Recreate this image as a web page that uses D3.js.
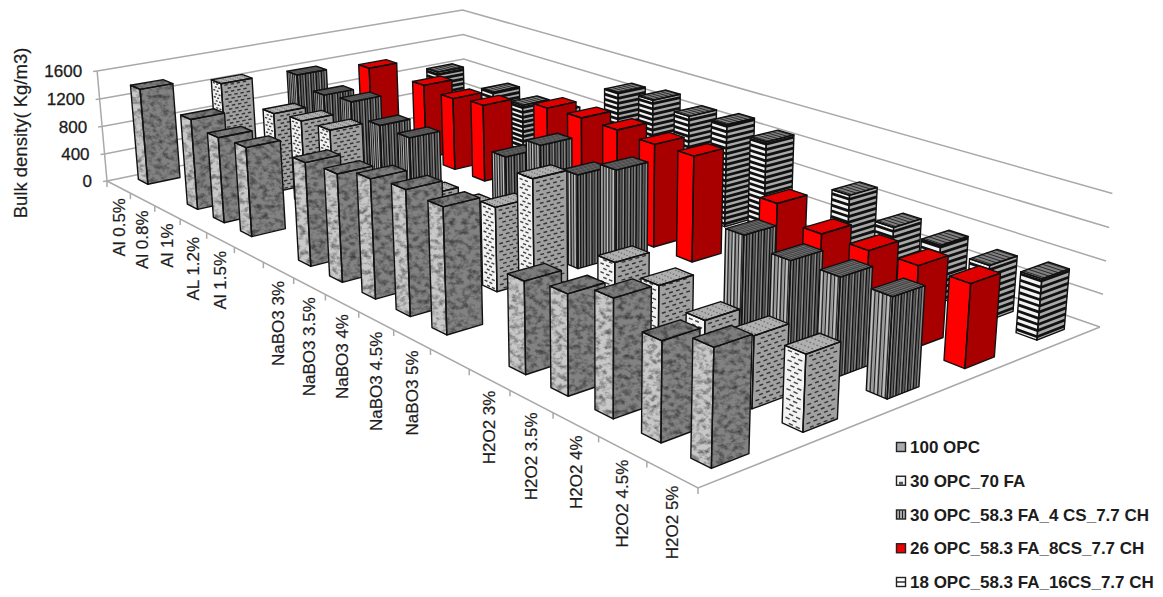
<!DOCTYPE html>
<html>
<head>
<meta charset="utf-8">
<script src="https://cdn.jsdelivr.net/npm/d3@7/dist/d3.min.js"></script>
<style>
html,body{margin:0;padding:0;background:#fff;}
svg{display:block;}
text{font-family:"Liberation Sans",Arial,sans-serif;fill:#1c1c1c;}
</style>
</head>
<body>
<svg id="chart" width="1163" height="597"></svg>
<script>
// Bulk density of the mixes for each foaming agent dosage (kg/m3).
const categories = ["Al 0.5%","Al 0.8%","Al 1%","AL 1.2%","Al 1.5%","",
  "NaBO3 3%","NaBO3 3.5%","NaBO3 4%","NaBO3 4.5%","NaBO3 5%","",
  "H2O2 3%","H2O2 3.5%","H2O2 4%","H2O2 4.5%","H2O2 5%"];
const seriesNames = ["100 OPC","30 OPC_70 FA","30 OPC_58.3 FA_4 CS_7.7 CH","26 OPC_58.3 FA_8CS_7.7 CH","18 OPC_58.3 FA_16CS_7.7 CH"];
const opc100     = [1378,null,1258,1169,1200,null,1342,1372,1488,1536,1517,null,1067,1139,1308,1084,1249];
const fa70       = [1252,null,1120,1170,1203,null,null, 847, 870,1062,1590,null, 984, 927, 750, 808, 842];
const cs4        = [1178,1021,1071, 884, 868,null,null,1102,1421,1212,1447,null,null,1216,1122,1142,1137];
const cs8        = [1082,null,1106,1057,1110,null,1376,1395,1392,1364,1380,null,1137, 953, 951, 977, 979];
const cs16       = [ 820,null, 792, 742, 780,null,1374,1421,1352,1395,1328,null, 978, 757, 728, 685, 733];
const seriesValues = [opc100, fa70, cs4, cs8, cs16];
const densityTicks = [0,400,800,1200,1600];
const yTitle = "Bulk density( Kg/m3)";

const svg = d3.select("#chart");

// Floor corners and wall top corner of the 3-D box, on screen.
const floorA=[107,181], floorB=[698,488], floorC=[1100,327], floorD=[465,107];
const topA=[97,71];
const vanish=[603,5700];

// Perspective camera: floor homography plus a vertical column through the vanishing point.
const sx=floorA[0]-floorB[0]+floorC[0]-floorD[0], sy=floorA[1]-floorB[1]+floorC[1]-floorD[1];
const dx1=floorB[0]-floorC[0], dx2=floorD[0]-floorC[0], dy1=floorB[1]-floorC[1], dy2=floorD[1]-floorC[1];
const den=dx1*dy2-dx2*dy1;
const g=(sx*dy2-dx2*sy)/den, h=(dx1*sy-sx*dy1)/den;
const a=floorB[0]-floorA[0]+g*floorB[0], b=floorD[0]-floorA[0]+h*floorD[0], c=floorA[0];
const d=floorB[1]-floorA[1]+g*floorB[1], e=floorD[1]-floorA[1]+h*floorD[1], f=floorA[1];
const k=(topA[1]-floorA[1])/(vanish[1]-topA[1]);
function project(u,v,w){
  const W=g*u+h*v+1+k*w;
  return [(a*u+b*v+c+k*w*vanish[0])/W,(d*u+e*v+f+k*w*vanish[1])/W];
}

const uScale=d3.scaleBand().domain(d3.range(categories.length)).range([0,1]).paddingInner(0.6).paddingOuter(0.3);
const vScale=d3.scaleBand().domain(d3.range(seriesNames.length)).range([0,1]).paddingInner(0.6).paddingOuter(0.3);
const wScale=d3.scaleLinear().domain([0,1600]).range([0,1]);
const line=d3.line();

// Granite fill used by the plain cement bars.
const defs=svg.append("defs");
const granite=defs.append("filter").attr("id","granite").attr("color-interpolation-filters","sRGB")
  .attr("x","0").attr("y","0").attr("width","1").attr("height","1");
granite.append("feTurbulence").attr("type","fractalNoise").attr("baseFrequency","0.16 0.2").attr("numOctaves",3).attr("seed",7).attr("result","n");
granite.append("feColorMatrix").attr("in","n").attr("type","matrix")
  .attr("values","1.15 0 0 0 0.32  1.15 0 0 0 0.32  1.15 0 0 0 0.32  0 0 0 0 1").attr("result","gray");
granite.append("feBlend").attr("in","SourceGraphic").attr("in2","gray").attr("mode","multiply").attr("result","m");
granite.append("feComposite").attr("in","m").attr("in2","SourceAlpha").attr("operator","in");

// Walls and floor
const grid=svg.append("g").attr("fill","none").attr("stroke","#a9a9a9").attr("stroke-width",1.5);
densityTicks.forEach(t=>{
  const w=wScale(t);
  grid.append("path").attr("d",line([project(0,0,w),project(0,1,w),project(1,1,w)]));
  const p=project(0,0,w);
  grid.append("path").attr("d",line([p,[p[0]-4,p[1]+0.5]]));
});
grid.append("path").attr("d",line([project(0,0,0),project(0,0,1)]));
grid.append("path").attr("d",line([project(0,0,0),project(1,0,0),project(1,1,0)]));
d3.range(categories.length+1).forEach(i=>{
  const p=project(i/categories.length,0,0);
  grid.append("path").attr("d",line([p,[p[0],p[1]+6]]));
});

// Face painters, one per series
function facePoint(q,s,t){
  const w0=[q[0][0]+(q[1][0]-q[0][0])*s,q[0][1]+(q[1][1]-q[0][1])*s,q[0][2]+(q[1][2]-q[0][2])*s];
  const w1=[q[3][0]+(q[2][0]-q[3][0])*s,q[3][1]+(q[2][1]-q[3][1])*s,q[3][2]+(q[2][2]-q[3][2])*s];
  return project(w0[0]+(w1[0]-w0[0])*t,w0[1]+(w1[1]-w0[1])*t,w0[2]+(w1[2]-w0[2])*t);
}
const polyPath=q=>line(q.map(p=>project(...p)))+"Z";
const stripeWidths=[0.9,0.5,1.3,0.6,1.0,0.5,1.5,0.7];

function verticalStripes(gr,q,count,colors){
  d3.range(1,count).forEach(n=>{
    gr.append("path").attr("d",line([facePoint(q,n/count,0),facePoint(q,n/count,1)]))
      .attr("stroke",colors[n%colors.length]).attr("stroke-width",stripeWidths[n%stripeWidths.length]).attr("fill","none");
  });
}
function horizontalStripes(gr,q,value,step,width,color){
  d3.range(step*0.55,value,step).forEach(val=>{
    const t=val/value;
    gr.append("path").attr("d",line([facePoint(q,0,t),facePoint(q,1,t)]))
      .attr("stroke",color).attr("stroke-width",width).attr("fill","none");
  });
}
function dashes(gr,q,value,step,cols,color,lenFrac,width){
  d3.range(step*0.5,value,step).forEach((val,row)=>{
    const t=val/value, off=(row%2)*0.5/cols;
    d3.range(cols).forEach(n=>{
      const s=(n+0.25)/cols+off-lenFrac/2;
      if(s<0.03||s+lenFrac>0.97) return;
      gr.append("path").attr("d",line([facePoint(q,s,t),facePoint(q,s+lenFrac,t)]))
        .attr("stroke",color).attr("stroke-width",width).attr("fill","none");
    });
  });
}
const painters=[
  (gr,L,R,T,val)=>{
    gr.append("path").attr("d",polyPath(L)).attr("fill","#c8c8c8").attr("filter","url(#granite)");
    gr.append("path").attr("d",polyPath(R)).attr("fill","#828282").attr("filter","url(#granite)");
    gr.append("path").attr("d",polyPath(T)).attr("fill","#7c7c7c").attr("filter","url(#granite)");
  },
  (gr,L,R,T,val)=>{
    gr.append("path").attr("d",polyPath(L)).attr("fill","#f2f2f2");
    gr.append("path").attr("d",polyPath(R)).attr("fill","#a0a0a0");
    gr.append("path").attr("d",polyPath(T)).attr("fill","#b0b0b0");
    dashes(gr,L,val,52,3,"#444",0.2,1.4);
    dashes(gr,R,val,52,5,"#333",0.11,1.4);
    dashes(gr,T,1,0.2,6,"#707070",0.07,1.3);
  },
  (gr,L,R,T,val)=>{
    gr.append("path").attr("d",polyPath(L)).attr("fill","#a6a6a6");
    gr.append("path").attr("d",polyPath(R)).attr("fill","#707070");
    gr.append("path").attr("d",polyPath(T)).attr("fill","#606060");
    verticalStripes(gr,L,11,["#1a1a1a","#e4e4e4","#2a2a2a","#8a8a8a"]);
    verticalStripes(gr,R,22,["#1a1a1a","#a8a8a8","#111","#4a4a4a"]);
    verticalStripes(gr,T,14,["#444","#848484"]);
  },
  (gr,L,R,T,val)=>{
    gr.append("path").attr("d",polyPath(L)).attr("fill","#ff0000");
    gr.append("path").attr("d",polyPath(R)).attr("fill","#a80000");
    gr.append("path").attr("d",polyPath(T)).attr("fill","#e00000");
  },
  (gr,L,R,T,val)=>{
    gr.append("path").attr("d",polyPath(L)).attr("fill","#f4f4f4");
    gr.append("path").attr("d",polyPath(R)).attr("fill","#a8a8a8");
    gr.append("path").attr("d",polyPath(T)).attr("fill","#808080");
    horizontalStripes(gr,L,val,74,2.8,"#111");
    horizontalStripes(gr,R,val,74,2.8,"#111");
    horizontalStripes(gr,T,1,0.17,1,"#2a2a2a");
  }
];

// Bars, farthest first
const barsLayer=svg.append("g");
d3.range(seriesNames.length).reverse().forEach(j=>{
  const v0=vScale(j), v1=v0+vScale.bandwidth();
  seriesValues[j].forEach((val,i)=>{
    if(val===null) return;
    const u0=uScale(i), u1=u0+uScale.bandwidth(), w=wScale(val);
    const L=[[u0,v0,0],[u1,v0,0],[u1,v0,w],[u0,v0,w]];
    const R=[[u1,v0,0],[u1,v1,0],[u1,v1,w],[u1,v0,w]];
    const T=[[u0,v0,w],[u1,v0,w],[u1,v1,w],[u0,v1,w]];
    const gr=barsLayer.append("g");
    painters[j](gr,L,R,T,val);
    [L,R,T].forEach(q=>gr.append("path").attr("d",polyPath(q)).attr("fill","none")
      .attr("stroke","#111").attr("stroke-width",1.4).attr("stroke-linejoin","round"));
  });
});

// Value axis labels
densityTicks.forEach(t=>{
  const p=project(0,0,wScale(t));
  svg.append("text").attr("x",p[0]-15).attr("y",p[1]).attr("dy","0.36em").attr("text-anchor","end")
    .attr("font-size",17).attr("stroke","#1c1c1c").attr("stroke-width",0.3).text(d3.format("d")(t));
});
svg.append("text").attr("transform","translate(27,133) rotate(-90)").attr("text-anchor","middle")
  .attr("font-size",18.5).attr("stroke","#1c1c1c").attr("stroke-width",0.2).text(yTitle);

// Category labels, rotated under the front edge
categories.forEach((cat,i)=>{
  if(!cat) return;
  const p=project(uScale(i)+uScale.bandwidth()/2,0,0);
  svg.append("text").attr("transform",`translate(${p[0]+6},${p[1]+11}) rotate(-90)`).attr("text-anchor","end")
    .attr("font-size",17).attr("stroke","#1c1c1c").attr("stroke-width",0.2).text(cat);
});

// Legend
const legendY=d3.scalePoint().domain(seriesNames).range([447,582]);
seriesNames.forEach((name,j)=>{
  const y=legendY(name), gr=svg.append("g");
  const fills=["#aaa","#f4f4f4","#aaa","#ee0000","#fff"];
  gr.append("rect").attr("x",896.5).attr("y",y-4.5).attr("width",9).attr("height",9).attr("fill",fills[j])
    .attr("stroke","#222").attr("stroke-width",1.4);
  if(j===2) [899.5,902.5].forEach(x=>gr.append("path").attr("d",line([[x,y-4],[x,y+4]])).attr("stroke","#222"));
  if(j===4) gr.append("path").attr("d",line([[897,y],[905,y]])).attr("stroke","#222").attr("stroke-width",1.4);
  if(j===1) gr.append("rect").attr("x",899).attr("y",y+1).attr("width",4).attr("height",3).attr("fill","#555");
  svg.append("text").attr("x",910).attr("y",y).attr("dy","0.36em").attr("font-size",17).attr("font-weight","bold").text(name);
});
</script>
</body>
</html>
